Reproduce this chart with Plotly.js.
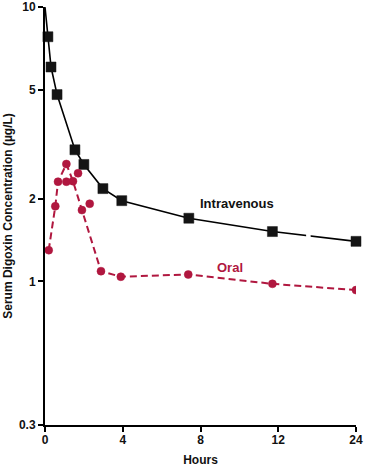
<!DOCTYPE html>
<html>
<head>
<meta charset="utf-8">
<script src="https://cdn.plot.ly/plotly-3.0.1.min.js"></script>
<style>html,body{margin:0;padding:0;background:#fff;}#chart{width:365px;height:467px;}</style>
</head>
<body>
<div id="chart"></div>
<script>
// Hours (real time) and serum digoxin concentration (µg/L)
const ivHours = [0, 0.15, 0.31, 0.62, 1.54, 2.0, 2.98, 3.95, 7.4, 11.7, 24];
const ivConc  = [10, 7.8, 6.05, 4.8, 3.02, 2.67, 2.18, 1.97, 1.7, 1.52, 1.4];
const ivMarkerShown = [false, true, true, true, true, true, true, true, true, true, true];

const oralHours = [0.19, 0.53, 0.67, 1.1, 1.44, 1.9, 2.88, 3.9, 7.37, 11.7, 24];
const oralConc  = [1.3, 1.88, 2.31, 2.68, 2.32, 1.82, 1.09, 1.04, 1.06, 0.98, 0.93];

const oralExtraHours = [1.1, 1.7, 2.3];
const oralExtraConc  = [2.31, 2.48, 1.92];

const xTickHours = [0, 4, 8, 12, 24];
const xTickLabels = ['0', '4', '8', '12', '24'];
const yTickVals = [0.3, 1, 2, 5, 10];
const yTickLabels = ['0.3', '1', '2', '5', '10'];

// Broken time axis: 12–24 h is compressed to one third
function pos(h) { return h <= 12 ? h : 12 + (h - 12) / 3; }

const RED = '#b0173f';
const BLACK = '#000000';

const traces = [
  {
    x: ivHours.map(pos), y: ivConc, type: 'scatter', mode: 'lines',
    line: {color: BLACK, width: 1.6},
    hoverinfo: 'skip', showlegend: false, cliponaxis: false
  },
  {
    x: ivHours.filter((h, i) => ivMarkerShown[i]).map(pos),
    y: ivConc.filter((c, i) => ivMarkerShown[i]),
    type: 'scatter', mode: 'markers',
    marker: {symbol: 'square', color: 'rgb(20,20,20)', size: 10, opacity: 1,
             line: {color: 'rgb(20,20,20)', width: 0.5}},
    hoverinfo: 'skip', showlegend: false, cliponaxis: false
  },
  {
    x: oralHours.map(pos), y: oralConc, type: 'scatter', mode: 'lines+markers',
    line: {color: RED, width: 2, dash: '7px,4px'},
    marker: {symbol: 'circle', color: RED, size: 8, line: {color: RED, width: 0.5}},
    hoverinfo: 'skip', showlegend: false
  },
  {
    x: oralExtraHours.map(pos), y: oralExtraConc, type: 'scatter', mode: 'markers',
    marker: {symbol: 'circle', color: RED, size: 8, line: {color: RED, width: 0.5}},
    hoverinfo: 'skip', showlegend: false
  }
];

const tickFont = {family: 'Liberation Sans, Arial, sans-serif', size: 12, color: '#111', weight: 'bold'};

const layout = {
  width: 365, height: 467,
  margin: {l: 45, r: 9, t: 7, b: 42},
  paper_bgcolor: '#fff', plot_bgcolor: '#fff',
  font: tickFont,
  xaxis: {
    range: [0, 16], tickvals: xTickHours.map(pos), ticktext: xTickLabels,
    showgrid: false, zeroline: false, showline: true, linecolor: BLACK, linewidth: 2,
    ticks: 'outside', ticklen: 5, tickwidth: 2, tickcolor: BLACK,
    tickfont: tickFont, ticklabelstandoff: -2, ticklabeloverflow: 'allow',
    title: {text: 'Hours', font: tickFont, standoff: 10}
  },
  yaxis: {
    type: 'log', range: [Math.log10(0.3) - 0.0005, 1.0005],
    tickvals: yTickVals, ticktext: yTickLabels,
    showgrid: false, zeroline: false, showline: true, linecolor: BLACK, linewidth: 2,
    ticks: 'outside', ticklen: 5, tickwidth: 2, tickcolor: BLACK,
    tickfont: tickFont, ticklabeloverflow: 'allow',
    title: {text: 'Serum Digoxin Concentration (µg/L)', font: tickFont, standoff: 4}
  },
  shapes: [
    {type: 'rect', xref: 'x', yref: 'paper', x0: pos(16.3), x1: pos(17.0), y0: 0.4, y1: 0.48,
     fillcolor: '#fff', line: {width: 0}, layer: 'above'}
  ],
  annotations: [
    {x: pos(9.9), y: Math.log10(1.93), xref: 'x', yref: 'y', text: 'Intravenous', showarrow: false,
     font: {family: 'Liberation Sans, Arial, sans-serif', size: 13, color: '#111', weight: 'bold'}},
    {x: pos(9.5), y: Math.log10(1.12), xref: 'x', yref: 'y', text: 'Oral', showarrow: false,
     font: {family: 'Liberation Sans, Arial, sans-serif', size: 13, color: RED, weight: 'bold'}}
  ]
};

Plotly.newPlot('chart', traces, layout, {staticPlot: true, displayModeBar: false});
</script>
</body>
</html>
